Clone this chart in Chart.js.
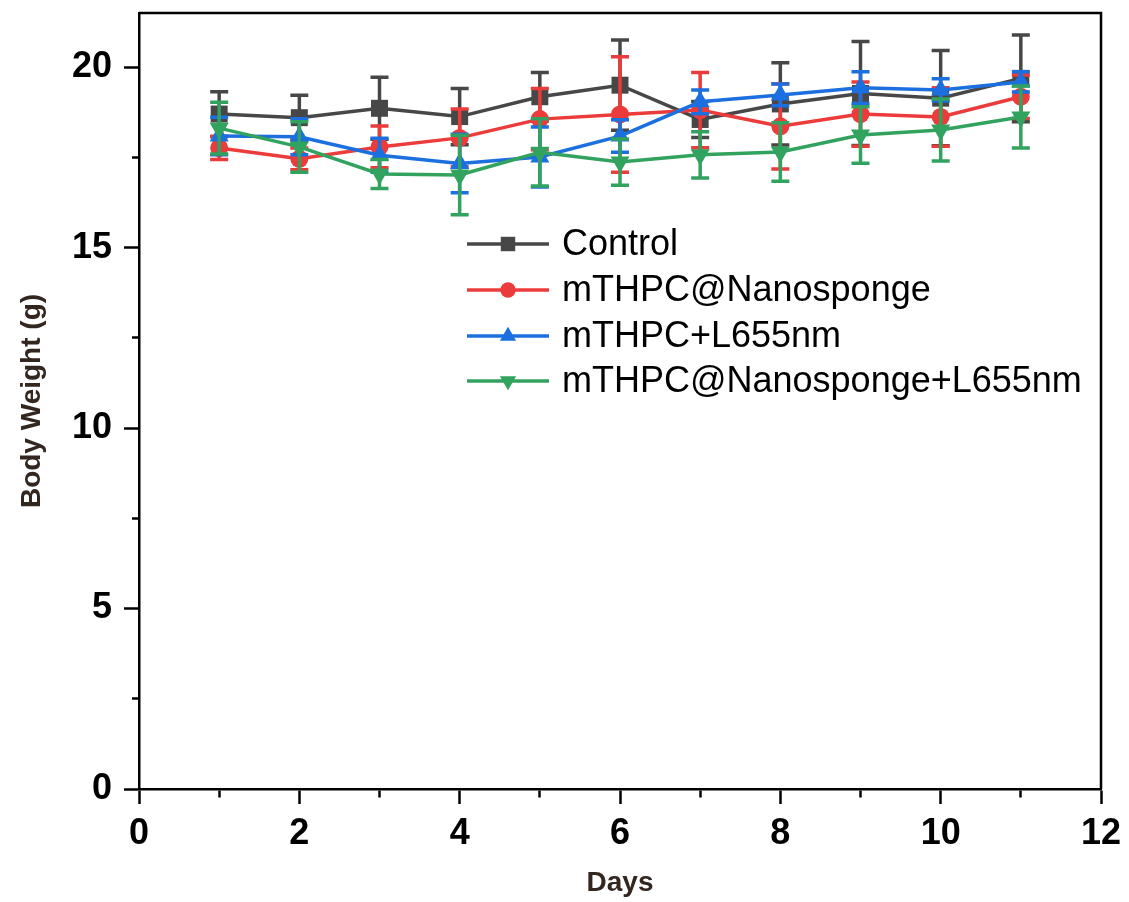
<!DOCTYPE html>
<html lang="en">
<head>
    <meta charset="UTF-8">
    <title>Body Weight</title>
    <script src="https://cdn.jsdelivr.net/npm/chart.js"></script>
    <style>
        html, body { margin: 0; padding: 0; background: #ffffff; }
        canvas { display: block; }
    </style>
</head>
<body>
<canvas id="weightChart" width="1129" height="902"></canvas>
<script>
    // values (g), mean and error per day
    const days = [1, 2, 3, 4, 5, 6, 7, 8, 9, 10, 11];
    const seriesNames = ['Control', 'mTHPC@Nanosponge', 'mTHPC+L655nm', 'mTHPC@Nanosponge+L655nm'];
    const control = [18.70, 18.60, 18.86, 18.63, 19.18, 19.50, 18.55, 18.98, 19.27, 19.14, 19.69];
    const controlErr = [0.62, 0.62, 0.86, 0.78, 0.67, 1.25, 0.50, 1.14, 1.44, 1.32, 1.20];
    const nanosponge = [17.76, 17.46, 17.79, 18.04, 18.56, 18.69, 18.81, 18.36, 18.70, 18.62, 19.18];
    const nanospongeErr = [0.32, 0.30, 0.58, 0.80, 0.85, 1.60, 1.04, 1.18, 0.89, 0.81, 0.60];
    const laser = [18.09, 18.07, 17.56, 17.33, 17.51, 18.09, 19.04, 19.23, 19.43, 19.37, 19.59];
    const laserErr = [0.52, 0.50, 0.47, 0.81, 0.83, 0.45, 0.33, 0.30, 0.44, 0.31, 0.28];
    const combo = [18.31, 17.79, 17.04, 17.01, 17.64, 17.37, 17.57, 17.65, 18.12, 18.26, 18.62];
    const comboErr = [0.72, 0.70, 0.40, 1.10, 0.93, 0.64, 0.64, 0.81, 0.78, 0.86, 0.86];
    const xTicks = [0, 2, 4, 6, 8, 10, 12];
    const yTicks = [0, 5, 10, 15, 20];

    const FONT = "'Liberation Sans', Arial, sans-serif";
    const colors = ['#474747', '#ec3b3b', '#1c6fdf', '#32a35f'];
    const styles = [
        { pointStyle: 'rect', radius: 12, rotation: 0 },
        { pointStyle: 'circle', radius: 9, rotation: 0 },
        { pointStyle: 'triangle', radius: 11, rotation: 0 },
        { pointStyle: 'triangle', radius: 11, rotation: 180 }
    ];
    const means = [control, nanosponge, laser, combo];
    const errors = [controlErr, nanospongeErr, laserErr, comboErr];

    const datasets = means.map((vals, i) => ({
        label: seriesNames[i],
        data: days.map((d, j) => ({ x: d, y: vals[j] })),
        errors: errors[i],
        borderColor: colors[i],
        backgroundColor: colors[i],
        borderWidth: 3.5,
        pointStyle: styles[i].pointStyle,
        pointRadius: styles[i].radius,
        pointRotation: styles[i].rotation,
        pointBorderWidth: 0,
        tension: 0,
        order: 4 - i
    }));

    // error bars, drawn right after each dataset so layering follows the series
    const errorBars = {
        id: 'errorBars',
        afterDatasetDraw(chart, args) {
            const ds = chart.data.datasets[args.index];
            const yScale = chart.scales.y;
            const ctx = chart.ctx;
            ctx.save();
            ctx.strokeStyle = ds.borderColor;
            ctx.lineWidth = 3.5;
            args.meta.data.forEach((pt, j) => {
                const v = ds.data[j].y, e = ds.errors[j];
                const top = yScale.getPixelForValue(v + e);
                const bot = yScale.getPixelForValue(v - e);
                ctx.beginPath();
                ctx.moveTo(pt.x, top); ctx.lineTo(pt.x, bot);
                ctx.moveTo(pt.x - 9, top); ctx.lineTo(pt.x + 9, top);
                ctx.moveTo(pt.x - 9, bot); ctx.lineTo(pt.x + 9, bot);
                ctx.stroke();
            });
            ctx.restore();
        }
    };

    // box round the plot area (top and right sides)
    const frame = {
        id: 'frame',
        afterDraw(chart) {
            const a = chart.chartArea, ctx = chart.ctx;
            ctx.save();
            ctx.strokeStyle = '#000';
            ctx.lineWidth = 2.5;
            ctx.beginPath();
            ctx.moveTo(a.left, a.top); ctx.lineTo(a.right, a.top); ctx.lineTo(a.right, a.bottom);
            ctx.stroke();
            ctx.restore();
        }
    };

    // legend inside the plot: line segment with marker, then the name
    const insideLegend = {
        id: 'insideLegend',
        afterDraw(chart) {
            const ctx = chart.ctx;
            const x0 = 467, x1 = 549, xm = 508, xt = 562;
            const rowY = [244, 290, 336, 381];
            ctx.save();
            chart.data.datasets.forEach((ds, i) => {
                const y = rowY[i];
                ctx.strokeStyle = ds.borderColor;
                ctx.lineWidth = 3.5;
                ctx.beginPath();
                ctx.moveTo(x0, y); ctx.lineTo(x1, y);
                ctx.stroke();
                ctx.fillStyle = ds.backgroundColor;
                Chart.helpers.drawPoint(ctx, {
                    pointStyle: ds.pointStyle,
                    radius: ds.pointRadius * 0.85,
                    rotation: ds.pointRotation,
                    borderWidth: 0
                }, xm, y);
                ctx.fillStyle = '#000';
                ctx.font = '36px ' + FONT;
                ctx.textBaseline = 'middle';
                ctx.fillText(ds.label, xt, y + 1);
            });
            ctx.restore();
        }
    };

    const minorDash = (ctx, major, inner) => {
        if (ctx.tick && major.includes(ctx.tick.value)) return [];
        return inner;
    };

    new Chart(document.getElementById('weightChart'), {
        type: 'line',
        data: { datasets: datasets },
        options: {
            responsive: false,
            animation: false,
            layout: { padding: { top: 13, right: 28, left: 0, bottom: 0 } },
            plugins: {
                legend: { display: false },
                tooltip: { enabled: false }
            },
            scales: {
                x: {
                    type: 'linear',
                    min: 0,
                    max: 12,
                    afterFit: s => { s.height = 113; s.paddingRight = 0; },
                    border: { color: '#000', width: 2.5 },
                    grid: {
                        drawOnChartArea: false,
                        tickLength: 15,
                        tickWidth: 2.5,
                        tickColor: '#000',
                        tickBorderDash: ctx => minorDash(ctx, xTicks, [7, 100])
                    },
                    ticks: {
                        stepSize: 1,
                        autoSkip: false,
                        maxRotation: 0,
                        padding: 8,
                        color: '#000',
                        font: { family: FONT, size: 36, weight: 'bold' },
                        callback: v => xTicks.includes(v) ? v : ''
                    },
                    title: {
                        display: true,
                        text: 'Days',
                        color: '#33261f',
                        padding: { top: 0, bottom: 2 },
                        font: { family: FONT, size: 28, weight: 'bold' }
                    }
                },
                y: {
                    min: 0,
                    max: 21.5,
                    afterFit: s => { s.width = 139; s.paddingTop = 0; s.paddingBottom = 0; },
                    border: { color: '#000', width: 2.5 },
                    grid: {
                        drawOnChartArea: false,
                        tickLength: 15,
                        tickWidth: 2.5,
                        tickColor: '#000',
                        tickBorderDash: ctx => minorDash(ctx, yTicks, [0, 8, 7, 100])
                    },
                    ticks: {
                        stepSize: 2.5,
                        includeBounds: false,
                        autoSkip: false,
                        padding: 12,
                        color: '#000',
                        font: { family: FONT, size: 36, weight: 'bold' },
                        callback: v => yTicks.includes(v) ? v : ''
                    },
                    title: {
                        display: true,
                        text: 'Body Weight (g)',
                        color: '#33261f',
                        padding: { top: 15, bottom: 0 },
                        font: { family: FONT, size: 28, weight: 'bold' }
                    }
                }
            }
        },
        plugins: [errorBars, frame, insideLegend]
    });
</script>
</body>
</html>
